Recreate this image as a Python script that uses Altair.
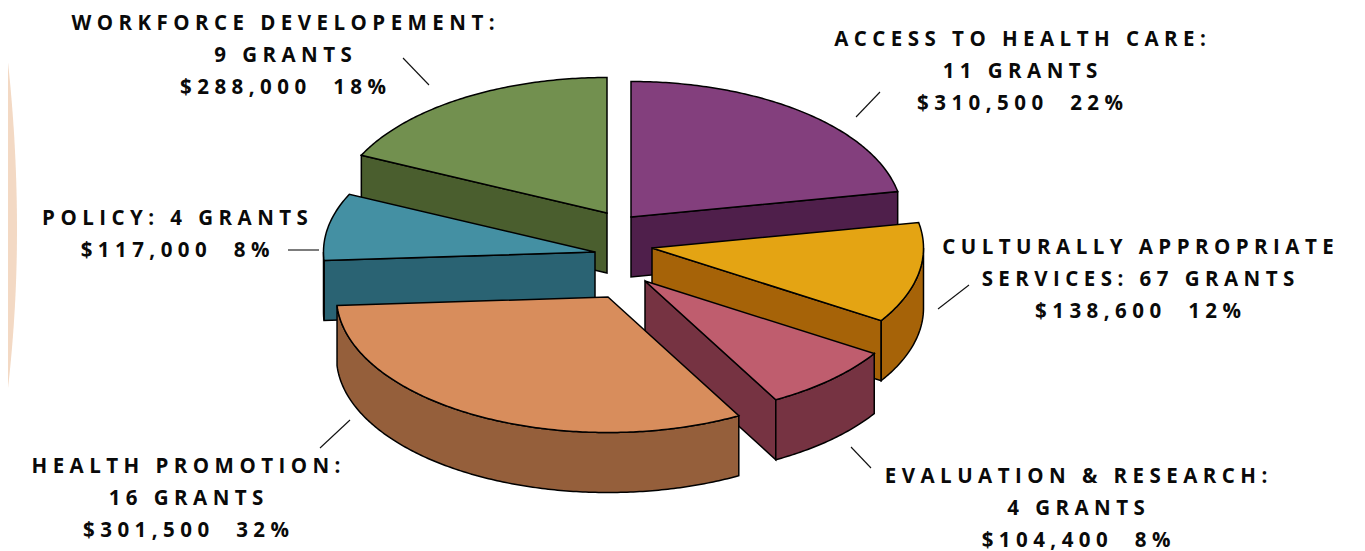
import math
import altair as alt

# ---- data
CATEGORIES = ["Access to health care", "Culturally appropriate services",
              "Evaluation & research", "Health promotion", "Policy",
              "Workforce development"]
SHARES = [22, 12, 8, 32, 8, 18]

LABEL_LINES = [
    ["ACCESS TO HEALTH CARE:", "11 GRANTS", "$310,500  22%"],
    ["CULTURALLY APPROPRIATE", "SERVICES: 67 GRANTS", "$138,600  12%"],
    ["EVALUATION & RESEARCH:", "4 GRANTS", "$104,400  8%"],
    ["HEALTH PROMOTION:", "16 GRANTS", "$301,500  32%"],
    ["POLICY: 4 GRANTS", "$117,000  8%"],
    ["WORKFORCE DEVELOPEMENT:", "9 GRANTS", "$288,000  18%"],
]

# ---- styles
TOP_COLORS = ["#833F7D", "#E4A413", "#BF5D6E", "#D88D5C", "#4490A3", "#72904F"]
SIDE_COLORS = ["#4F1F4B", "#A66308", "#763342", "#955F3B", "#2A6373", "#4A5E2E"]
BAND_COLOR = "#F3D9C4"
TRACKING = "\u2009\u200a"   # the labels are widely letter-spaced

# ---- layout (page pixels; the svg starts 8px in)
OFF = 8
RX, RY, DEPTH = 271.5, 135.5, 60
APEX = [(631, 217), (652, 248), (645, 281), (608, 297), (595, 252), (607, 213)]
LABEL_X = [1020, 1138, 1076, 186, 175, 283]
LABEL_BASE = [46, 254, 483, 473, 225, 30]
LINE_GAP = 32
LEADERS = [(856, 117, 880, 92), (938, 309, 969, 285), (851, 447, 871, 468),
           (320, 448, 350, 420), (288, 250, 319, 250), (403, 58, 429, 85)]
DRAW_ORDER = [5, 4, 0, 1, 2, 3]


def tracked(line):
    return TRACKING.join(line.replace("  ", " \u00a0"))


def pt(apex, deg, drop=0):
    t = math.radians(deg)
    return [apex[0] - OFF + RX * math.sin(t),
            apex[1] - OFF - RY * math.cos(t) + drop]


def arc(apex, a, b, drop=0):
    n = max(2, int(abs(b - a) * 1.5))
    return [pt(apex, a + (b - a) * i / n, drop) for i in range(n + 1)]


def feature(ring, fill):
    return {"type": "Feature", "properties": {"fill": fill},
            "geometry": {"type": "Polygon", "coordinates": [ring + [ring[0]]]}}


def wall(apex, deg, fill):
    c = [apex[0] - OFF, apex[1] - OFF]
    e = pt(apex, deg)
    return feature([c, e, [e[0], e[1] + DEPTH], [c[0], c[1] + DEPTH]], fill)


bounds, run = [], 0
for s in SHARES:
    bounds.append((run * 3.6, (run + s) * 3.6))
    run += s

features = []
for i in DRAW_ORDER:
    a, b = bounds[i]
    apex, side, top = APEX[i], SIDE_COLORS[i], TOP_COLORS[i]
    if a >= 180:                 # leading cut face looks towards the viewer
        features.append(wall(apex, a, side))
    if b <= 180:                 # trailing cut face looks towards the viewer
        features.append(wall(apex, b, side))
    lo, hi = max(a, 90), min(b, 270)
    if hi > lo:                  # outer rim
        features.append(feature(arc(apex, lo, hi) + arc(apex, hi, lo, DEPTH), side))
    c = [apex[0] - OFF, apex[1] - OFF]
    features.append(feature([c] + arc(apex, a, b), top))

PROJ = dict(type="identity", scale=1, translate=[0, 0])

pie = alt.Chart(alt.Data(values=features)).mark_geoshape(
    strokeWidth=1.5, stroke="#000000", strokeJoin="miter"
).encode(fill=alt.Fill("properties.fill:N", scale=None)).project(**PROJ)

# pale curved band on the page's left edge
band_ring = [[-20, -20 - OFF]] + [
    [17 - OFF - (3.2e-4 if y < 230 else 3.6e-4) * (y - 230) ** 2, y - OFF]
    for y in range(-20, 461, 10)
] + [[-20, 460 - OFF]]
band = alt.Chart(alt.Data(values=[feature(band_ring, BAND_COLOR)])).mark_geoshape(
    strokeWidth=0
).encode(fill=alt.Fill("properties.fill:N", scale=None)).project(**PROJ)

layers = [band, pie]
one = alt.Data(values=[{"a": 1}])
for (x1, y1, x2, y2) in LEADERS:
    layers.append(alt.Chart(one).mark_rule(color="#111111", strokeWidth=1.1).encode(
        x=alt.value(x1 - OFF), y=alt.value(y1 - OFF),
        x2=alt.value(x2 - OFF), y2=alt.value(y2 - OFF)))

for lines, cx, base in zip(LABEL_LINES, LABEL_X, LABEL_BASE):
    for k, line in enumerate(lines):
        layers.append(alt.Chart(one).mark_text(
            font="Open Sans", fontSize=20.5, fontWeight="bold", color="#0A0A0A",
            align="center", baseline="alphabetic"
        ).encode(x=alt.value(cx - OFF), y=alt.value(base + k * LINE_GAP - OFF),
                 text=alt.value(tracked(line))))

chart = alt.layer(*layers).properties(
    width=1340, height=546, padding=0,
    autosize=alt.AutoSizeParams(type="none"),
).configure_view(stroke=None)

chart.save("out.html", embed_options={"renderer": "svg", "actions": False})
